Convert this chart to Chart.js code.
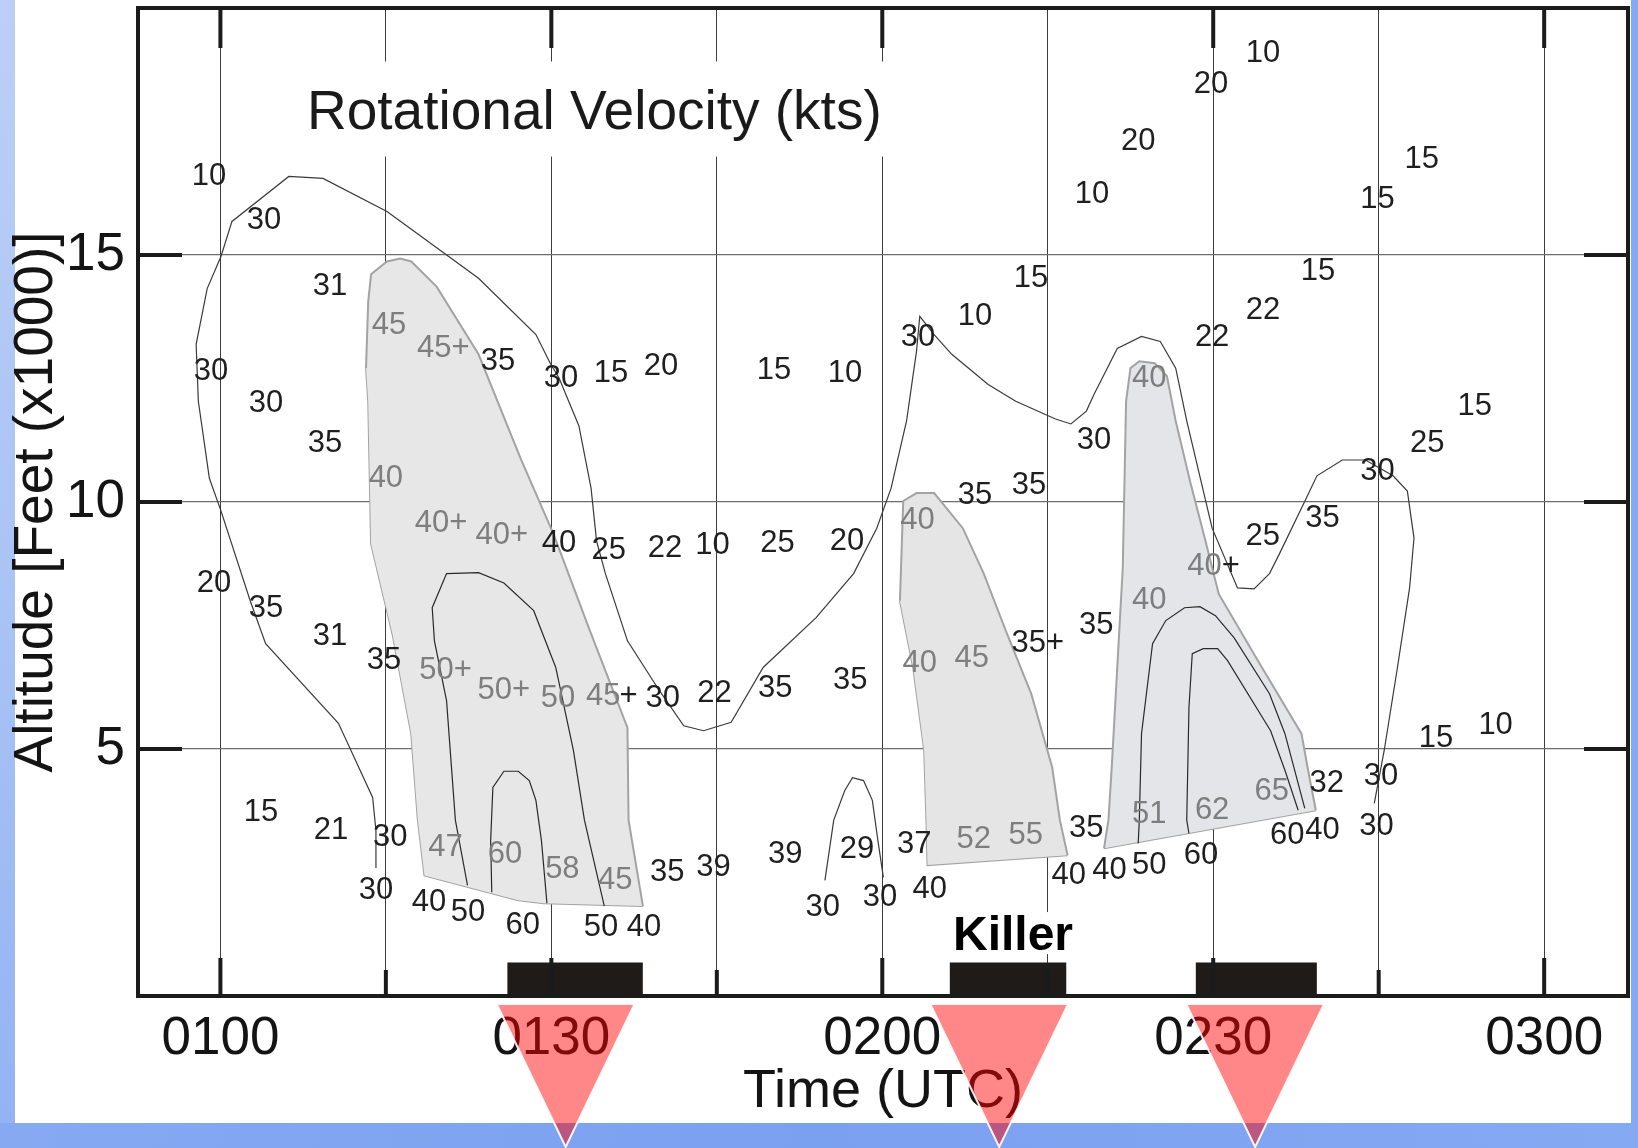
<!DOCTYPE html>
<html>
<head>
<meta charset="utf-8">
<script src="https://cdn.jsdelivr.net/npm/chart.js@4.4.0/dist/chart.umd.min.js"></script>
<style>
  html, body { margin: 0; padding: 0; }
  body { width: 1638px; height: 1148px; overflow: hidden; position: relative; background: linear-gradient(90deg, #86a9f2, #7aa0f0 50%, #86a9f3); }
  #strip { position: absolute; left: 0; top: 0; width: 15px; height: 1123px; background: linear-gradient(#bccff6, #a9c3f4 55%, #93b3f3); }
  #panel { position: absolute; left: 15px; top: 0; width: 1616px; height: 1123px; background: #fff; }
  #chart { position: absolute; left: 0; top: 0; }
</style>
</head>
<body>
<div id="strip"></div>
<div id="panel"></div>
<canvas id="chart" width="1638" height="1148"></canvas>
<script>
// x = minutes after 0100 UTC, y = altitude (thousands of feet)
const timeMin = -7.47, timeMax = 127.6;
const gridTimes = [0, 15, 30, 45, 60, 75, 90, 105, 120];
const timeTickValues = [0, 30, 60, 90, 120];
const timeTickLabels = ['0100', '0130', '0200', '0230', '0300'];
const altTicks = [5, 10, 15];

// 30 kt outline
const contour30 = [[14.1,2.59],[14.1,3.35],[13.8,4.02],[10.7,5.52],[4.1,7.13],[2.7,8.0],[0.05,9.82],[-1.0,10.48],[-2.0,12.04],[-2.2,13.19],[-1.2,14.32],[0.05,14.97],[1.05,15.68],[6.2,16.59],[9.3,16.55],[15.1,15.88],[23.4,14.53],[28.6,13.39],[29.9,12.81],[30.7,12.51],[32.5,11.54],[33.6,10.28],[34.1,9.21],[34.9,8.55],[36.9,7.19],[39.8,6.18],[42.0,5.47],[43.8,5.37],[46.3,5.54],[49.2,6.65],[54.0,7.66],[57.4,8.55],[59.5,9.47],[60.8,10.28],[62.2,11.64],[63.1,13.05],[63.4,13.76],[64.7,13.39],[66.3,12.99],[69.6,12.38],[72.1,12.04],[75.7,11.68],[77.1,11.58],[78.5,11.84],[79.2,12.18],[81.3,13.11],[83.5,13.35],[85.2,13.25],[86.6,12.71],[87.6,11.64],[89.9,9.47],[92.2,8.26],[93.7,8.24],[95.1,8.55],[96.0,8.95],[98.4,10.06],[99.4,10.53],[101.7,10.85],[103.8,10.85],[106.3,10.53],[107.6,10.22],[108.2,9.27],[107.8,8.26],[106.7,6.65],[105.5,4.97],[104.6,3.9]];
const contourBump = [[54.8,2.34],[55.6,3.56],[56.6,4.16],[57.3,4.42],[58.3,4.36],[59.1,3.96],[59.6,3.15],[60.1,2.4]];

// shaded cores: upper edge and lower edge
const cellATop = [[13.2,12.71],[13.4,14.06],[13.66,14.61],[15.1,14.87],[16.3,14.93],[17.3,14.87],[19.6,14.36],[23.4,12.99],[27.2,10.89],[30.2,9.35],[33.5,7.39],[36.9,5.43],[37.0,3.56],[38.3,1.82]];
const cellABase = [[13.2,12.71],[13.4,12.04],[13.66,9.15],[15.6,7.33],[17.3,5.31],[17.9,3.56],[18.5,2.44],[27.0,1.94],[29.3,1.88],[38.3,1.82]];
const cellBTop = [[61.6,8.0],[61.9,10.02],[63.1,10.18],[64.7,10.18],[67.3,9.47],[69.2,8.55],[71.2,7.39],[73.5,6.12],[75.4,4.63],[76.1,3.56],[76.8,2.85]];
const cellBBase = [[61.6,8.0],[62.8,6.65],[63.8,4.97],[64.0,3.56],[64.1,2.65],[76.8,2.85]];
const cellCTop = [[80.1,2.99],[80.5,3.56],[80.8,4.63],[81.3,6.65],[81.8,8.67],[82.1,12.04],[82.5,12.71],[83.3,12.85],[84.7,12.81],[85.8,12.55],[86.6,11.64],[87.9,10.42],[89.3,9.21],[90.5,8.14],[94.2,6.73],[98.0,5.31],[98.6,4.57],[99.3,3.76]];
const cellCBase = [[80.1,2.99],[99.3,3.76]];

// inner contours
const cellA50 = [[22.4,2.24],[21.3,3.56],[20.5,5.98],[19.4,7.19],[19.2,7.86],[20.5,8.55],[23.4,8.57],[25.7,8.36],[28.4,7.8],[30.4,6.65],[32.0,4.97],[33.0,3.56],[34.8,1.82]];
const cellA60 = [[24.6,2.1],[24.5,3.15],[24.7,4.22],[25.7,4.55],[27.0,4.55],[28.0,4.36],[28.6,3.96],[29.1,3.15],[29.6,1.88]];
const cellC50 = [[83.2,3.09],[83.3,3.56],[83.5,5.31],[84.5,7.13],[85.7,7.6],[87.4,7.86],[88.8,7.88],[90.2,7.7],[91.9,7.25],[95.1,6.12],[96.5,5.31],[98.3,3.8]];
const cellC60 = [[87.8,3.29],[87.6,3.56],[87.8,5.84],[88.1,6.93],[89.1,7.03],[90.4,7.03],[91.3,6.79],[95.2,5.37],[96.5,4.57],[97.7,3.76]];

// tornado periods (black bars) and arrows
const barStart = [26.0, 66.1, 88.4];
const barEnd = [38.3, 76.7, 99.4];
const barTop = 0.68;
const arrowTimes = [31.3, 70.6, 93.8];
const arrowHalfSpan = 6.25;

// velocity readings [time, altitude, text]
const darkLabels = [
  [-1.03,16.63,'10'],[3.95,15.74,'30'],[9.94,14.42,'31'],[25.17,12.89,'35'],[-0.85,12.69,'30'],[4.13,12.04,'30'],
  [30.88,12.55,'30'],[35.41,12.65,'15'],[39.95,12.79,'20'],[50.19,12.71,'15'],[56.63,12.65,'10'],[63.24,13.39,'30'],
  [68.41,13.8,'10'],[73.49,14.57,'15'],[94.52,19.13,'10'],[89.8,18.5,'20'],[83.2,17.35,'20'],[79.0,16.28,'10'],
  [108.9,16.99,'15'],[104.9,16.18,'15'],[99.5,14.71,'15'],[94.52,13.92,'22'],[89.9,13.39,'22'],[113.7,11.98,'15'],
  [9.48,11.23,'35'],[-0.58,8.4,'20'],[4.13,7.9,'35'],[9.94,7.33,'31'],[14.83,6.85,'35'],[3.68,3.76,'15'],
  [30.7,9.21,'40'],[35.2,9.07,'25'],[40.3,9.11,'22'],[44.6,9.17,'10'],[50.5,9.21,'25'],[56.8,9.25,'20'],
  [68.4,10.18,'35'],[73.3,10.38,'35'],[40.1,6.08,'30'],[44.8,6.18,'22'],[50.3,6.28,'35'],[57.1,6.44,'35'],
  [74.1,7.19,'35+'],[79.2,11.29,'30'],[109.4,11.23,'25'],[104.9,10.67,'30'],[99.9,9.72,'35'],[94.5,9.35,'25'],
  [79.4,7.56,'35'],[110.2,5.27,'15'],[115.6,5.52,'10'],[100.3,4.36,'32'],[105.2,4.5,'30'],[10.03,3.41,'21'],
  [15.4,3.25,'30'],[40.5,2.55,'35'],[44.7,2.65,'39'],[51.2,2.91,'39'],[14.1,2.18,'30'],[18.9,1.94,'40'],
  [22.45,1.74,'50'],[27.4,1.47,'60'],[34.5,1.43,'50'],[38.4,1.43,'40'],[57.7,3.01,'29'],[62.9,3.11,'37'],
  [78.5,3.45,'35'],[104.8,3.49,'30'],[96.7,3.29,'60'],[99.9,3.41,'40'],[76.9,2.48,'40'],[80.6,2.59,'40'],
  [84.2,2.69,'50'],[88.9,2.89,'60'],[59.8,2.04,'30'],[64.3,2.2,'40'],[54.6,1.84,'30'],
  [37.0,6.12,'+'],[91.6,8.75,'+']
];
const greyLabels = [
  [15.28,13.62,'45'],[20.2,13.15,'45+'],[15.0,10.53,'40'],[20.0,9.62,'40+'],[25.5,9.37,'40+'],
  [20.4,6.63,'50+'],[25.7,6.24,'50+'],[30.6,6.08,'50'],[34.7,6.12,'45'],[63.2,9.68,'40'],
  [63.4,6.79,'40'],[68.1,6.89,'45'],[84.2,12.55,'40'],[89.2,8.75,'40'],[84.2,8.06,'40'],
  [95.3,4.2,'65'],[89.9,3.8,'62'],[84.2,3.72,'51'],[20.4,3.05,'47'],[25.8,2.91,'60'],
  [31.0,2.61,'58'],[35.8,2.38,'45'],[68.3,3.21,'52'],[73.0,3.29,'55']
];

const titleText = 'Rotational Velocity (kts)';
const titlePos = [33.9, 17.56];
const killerPos = [71.85, 0.93];

const FONT = '"Liberation Sans", Arial, Helvetica, sans-serif';
Chart.defaults.font.family = FONT;

const pts = arr => arr.map(([x, y]) => ({ x, y }));

function lineSet(data, color, width, order) {
  return { data: pts(data), borderColor: color, borderWidth: width, pointRadius: 0, fill: false, tension: 0, order: order };
}
function cellSets(top, base, fillColor) {
  const edge = '#a3a3a3';
  return [
    { data: pts(top), borderColor: edge, borderWidth: 2, backgroundColor: fillColor, fill: '+1', pointRadius: 0, order: 5 },
    { data: pts(base), borderColor: edge, borderWidth: 2, fill: false, pointRadius: 0, order: 5 }
  ];
}

const datasets = [];
datasets.push(...cellSets(cellATop, cellABase, '#e7e7e7'));
datasets.push(...cellSets(cellBTop, cellBBase, '#e5e5e6'));
datasets.push(...cellSets(cellCTop, cellCBase, '#e4e5e9'));
datasets.push(lineSet(contour30, '#3a3a3a', 1.2, 2));
datasets.push(lineSet(contourBump, '#3a3a3a', 1.2, 2));
datasets.push(lineSet(cellA50, '#2a2a2a', 1.2, 2));
datasets.push(lineSet(cellA60, '#2a2a2a', 1.2, 2));
datasets.push(lineSet(cellC50, '#2a2a2a', 1.2, 2));
datasets.push(lineSet(cellC60, '#2a2a2a', 1.2, 2));
barStart.forEach((s, i) => {
  datasets.push({ data: [{ x: s, y: barTop }, { x: barEnd[i], y: barTop }], borderWidth: 0, borderColor: '#1e1b18',
    backgroundColor: '#1e1b18', fill: 'origin', pointRadius: 0, order: 3 });
});
datasets.push({ data: pts(darkLabels), texts: darkLabels.map(l => l[2]), textColor: '#1f1f1f', showLine: false, pointRadius: 0, order: 0 });
datasets.push({ data: pts(greyLabels), texts: greyLabels.map(l => l[2]), textColor: '#7e7e7e', showLine: false, pointRadius: 0, order: 0 });

const decor = {
  id: 'decor',
  beforeDatasetsDraw(chart) {
    const { ctx, scales: { x, y } } = chart;
    ctx.save();
    ctx.font = '55px ' + FONT;
    ctx.textAlign = 'center';
    ctx.textBaseline = 'alphabetic';
    const tx = x.getPixelForValue(titlePos[0]), ty = y.getPixelForValue(titlePos[1]);
    const w = ctx.measureText(titleText).width;
    ctx.fillStyle = '#fff';
    ctx.fillRect(tx - w / 2 - 10, ty - 67, w + 20, 95);
    ctx.fillStyle = '#1a1a1a';
    ctx.fillText(titleText, tx, ty);

    ctx.font = 'bold 48px ' + FONT;
    const kx = x.getPixelForValue(killerPos[0]), ky = y.getPixelForValue(killerPos[1]);
    const kw = ctx.measureText('Killer').width;
    ctx.fillStyle = '#fff';
    ctx.fillRect(kx - kw / 2 - 2, ky - 38, kw + 4, 42);
    ctx.fillStyle = '#000';
    ctx.fillText('Killer', kx, ky);
    ctx.restore();
  },
  afterDatasetsDraw(chart) {
    const { ctx, chartArea: { left, right, top, bottom }, scales: { x, y } } = chart;
    ctx.save();
    // readings
    ctx.font = '31px ' + FONT;
    ctx.textAlign = 'center';
    ctx.textBaseline = 'alphabetic';
    chart.data.datasets.forEach((ds, i) => {
      if (!ds.texts) return;
      ctx.fillStyle = ds.textColor;
      chart.getDatasetMeta(i).data.forEach((p, j) => ctx.fillText(ds.texts[j], p.x, p.y + 11));
    });
    // frame and tick marks
    ctx.strokeStyle = '#1b1b1b';
    ctx.lineWidth = 4;
    const seg = (x1, y1, x2, y2) => { ctx.beginPath(); ctx.moveTo(x1, y1); ctx.lineTo(x2, y2); ctx.stroke(); };
    gridTimes.forEach(t => {
      const px = x.getPixelForValue(t);
      const major = timeTickValues.includes(t);
      seg(px, bottom, px, bottom - (major ? 38 : 26));
      if (major) seg(px, top, px, top + 40);
    });
    altTicks.forEach(v => {
      const py = y.getPixelForValue(v);
      seg(left, py, left + 44, py);
      seg(right, py, right - 44, py);
    });
    ctx.strokeRect(left, top, right - left, bottom - top);
    ctx.restore();
  },
  afterDraw(chart) {
    const { ctx, chartArea: { bottom }, scales: { x } } = chart;
    ctx.save();
    arrowTimes.forEach(t => {
      const cx = x.getPixelForValue(t);
      const hw = x.getPixelForValue(t + arrowHalfSpan) - cx;
      ctx.beginPath();
      ctx.moveTo(cx - hw, bottom + 8);
      ctx.lineTo(cx + hw, bottom + 8);
      ctx.lineTo(cx, chart.height - 1);
      ctx.closePath();
      ctx.fillStyle = 'rgba(255, 0, 0, 0.47)';
      ctx.fill();
      ctx.strokeStyle = 'rgba(255, 255, 255, 0.9)';
      ctx.lineWidth = 2;
      ctx.stroke();
    });
    ctx.restore();
  }
};

new Chart(document.getElementById('chart'), {
  type: 'line',
  data: { datasets },
  plugins: [decor],
  options: {
    responsive: false,
    animation: false,
    devicePixelRatio: 1,
    layout: { padding: { left: 15, top: 8, right: 10, bottom: 25 } },
    plugins: { legend: { display: false }, tooltip: { enabled: false } },
    scales: {
      x: {
        type: 'linear', min: timeMin, max: timeMax,
        afterBuildTicks: s => { s.ticks = gridTimes.map(v => ({ value: v })); },
        afterFit: s => { s.height = 127; s.paddingLeft = 0; s.paddingRight = 0; },
        grid: { color: '#3c3c3c', lineWidth: 1, drawTicks: false },
        border: { display: false },
        ticks: {
          autoSkip: false, maxRotation: 0, padding: 17, color: '#141414',
          font: { size: 53, lineHeight: 1 },
          callback: v => { const i = timeTickValues.indexOf(v); return i >= 0 ? timeTickLabels[i] : ''; }
        },
        title: { display: true, text: 'Time (UTC)', color: '#141414', font: { size: 54, lineHeight: 1 }, padding: { top: 0, bottom: 4 } }
      },
      y: {
        type: 'linear', min: 0, max: 20,
        afterBuildTicks: s => { s.ticks = altTicks.map(v => ({ value: v })); },
        afterFit: s => { s.width = 123; s.paddingTop = 0; s.paddingBottom = 0; },
        grid: { color: '#6e6e6e', lineWidth: 1.3, drawTicks: false },
        border: { display: false },
        ticks: { padding: 13, color: '#141414', font: { size: 53, lineHeight: 1 } },
        title: { display: true, text: 'Altitude [Feet (x1000)]', color: '#141414', font: { size: 55, lineHeight: 0.8 }, padding: 0 }
      }
    }
  }
});
</script>
</body>
</html>
